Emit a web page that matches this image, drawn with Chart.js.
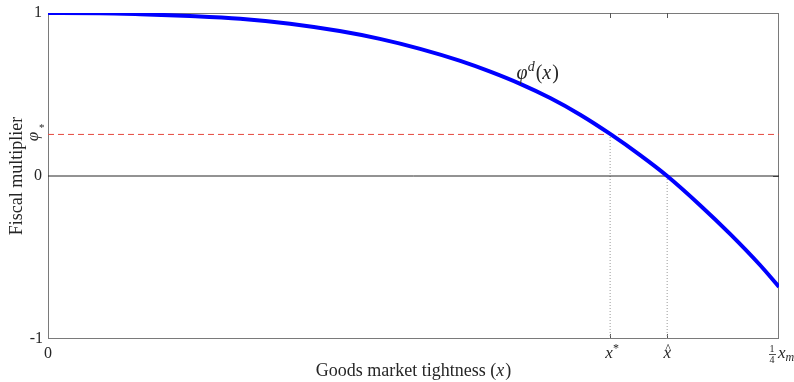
<!DOCTYPE html>
<html>
<head>
<meta charset="utf-8">
<script src="https://cdn.jsdelivr.net/npm/chart.js@4.4.1/dist/chart.umd.min.js"></script>
<style>
  html, body { margin: 0; padding: 0; background: #fff; }
  #wrap { width: 794px; height: 382px; position: relative; }
</style>
</head>
<body>
<div id="wrap"><canvas id="c"></canvas></div>
<script>
// Goods market tightness, measured in units of x_m / 4
const tightness  = [0, 0.071, 0.126, 0.194, 0.263, 0.331, 0.399, 0.454, 0.509, 0.564, 0.605, 0.646, 0.687, 0.728, 0.769, 0.810, 0.847, 0.892, 0.933, 0.974, 1];
// Fiscal multiplier phi^d(x)
const multiplier = [1.0, 0.999, 0.993, 0.982, 0.965, 0.934, 0.889, 0.841, 0.780, 0.706, 0.640, 0.565, 0.478, 0.376, 0.258, 0.128, 0.0, -0.179, -0.355, -0.546, -0.68];
const phiStar = 0.255;  // multiplier threshold
const xStar = 0.769;    // tightness where phi^d = phi*
const xHat = 0.847;     // tightness where phi^d = 0
const xTickValues = [0, xStar, xHat, 1];
const yTickValues = [-1, 0, phiStar, 1];

const SERIF = '"Liberation Serif", "DejaVu Serif", serif';
const AXIS_GREY = '#7a7a7a';

const curve = tightness.map((t, i) => ({ x: t, y: multiplier[i] }));

// draws text pieces one after another; each piece may be italic, scaled or shifted
function drawRuns(ctx, runs, x, y, size, align) {
  let total = 0;
  const widths = runs.map(r => {
    ctx.font = `${r.italic ? 'italic ' : ''}${Math.round(size * (r.scale || 1))}px ${SERIF}`;
    const w = ctx.measureText(r.t).width;
    total += w + (r.gap || 0);
    return w;
  });
  let cx = align === 'center' ? x - total / 2 : (align === 'right' ? x - total : x);
  runs.forEach((r, i) => {
    ctx.font = `${r.italic ? 'italic ' : ''}${Math.round(size * (r.scale || 1))}px ${SERIF}`;
    ctx.textAlign = 'left';
    ctx.fillText(r.t, cx, y + (r.dy || 0));
    cx += widths[i] + (r.gap || 0);
  });
}

const framePlugin = {
  id: 'frame',
  beforeDatasetsDraw(chart) {
    const { ctx, chartArea: a, scales: { x, y } } = chart;
    ctx.save();
    ctx.strokeStyle = AXIS_GREY;
    ctx.lineWidth = 1;
    ctx.strokeRect(Math.round(a.left) + 0.5, Math.round(a.top) + 0.5,
                   Math.round(a.right - a.left) - 1, Math.round(a.bottom - a.top) - 1);
    // inward tick marks
    ctx.strokeStyle = '#555';
    ctx.beginPath();
    xTickValues.slice(1, 3).forEach(v => {
      const px = Math.round(x.getPixelForValue(v)) + 0.5;
      ctx.moveTo(px, a.top); ctx.lineTo(px, a.top + 5);
      ctx.moveTo(px, a.bottom); ctx.lineTo(px, a.bottom - 5);
    });
    const py0 = Math.round(y.getPixelForValue(0)) + 0.5;
    ctx.moveTo(a.right, py0); ctx.lineTo(a.right - 6, py0);
    ctx.stroke();
    ctx.restore();
  },
  afterDraw(chart) {
    const { ctx, chartArea: a, scales: { x, y } } = chart;
    ctx.save();
    ctx.fillStyle = '#262626';
    ctx.textBaseline = 'middle';

    // y tick labels
    const lx = a.left - 6;
    ctx.font = `16px ${SERIF}`;
    ctx.textAlign = 'right';
    ctx.fillText('1', lx, y.getPixelForValue(1));
    ctx.fillText('0', lx, y.getPixelForValue(0));
    ctx.fillText('-1', lx + 1, y.getPixelForValue(-1));

    // phi* label, set sideways
    const ps = y.getPixelForValue(phiStar);
    ctx.save();
    ctx.translate(lx - 8, ps + 2);
    ctx.rotate(-Math.PI / 2);
    ctx.font = `italic 17px ${SERIF}`;
    ctx.textAlign = 'center';
    ctx.fillText('\u03C6', 0, 0);
    ctx.restore();
    ctx.font = `11px ${SERIF}`;
    ctx.textAlign = 'left';
    ctx.fillText('*', lx - 3, ps - 6);

    // x tick labels
    const ty = a.bottom + 15;
    ctx.font = `16px ${SERIF}`;
    ctx.textAlign = 'center';
    ctx.fillText('0', x.getPixelForValue(0), ty);

    const xs = x.getPixelForValue(xStar);
    drawRuns(ctx, [{ t: 'x', italic: true }, { t: '*', scale: 0.7, dy: -5 }], xs + 2, ty, 17, 'center');

    const xh = x.getPixelForValue(xHat);
    drawRuns(ctx, [{ t: 'x', italic: true }], xh, ty, 17, 'center');
    ctx.font = `12px ${SERIF}`;
    ctx.textAlign = 'center';
    ctx.fillText('^', xh + 1, ty - 5);

    // 1/4 x_m
    const xe = x.getPixelForValue(1);
    ctx.font = `10px ${SERIF}`;
    ctx.textAlign = 'center';
    ctx.fillText('1', xe - 7, ty - 5);
    ctx.fillText('4', xe - 7, ty + 6);
    ctx.fillRect(xe - 10, ty, 7, 0.8);
    drawRuns(ctx, [{ t: 'x', italic: true }, { t: 'm', italic: true, scale: 0.72, dy: 4 }], xe - 1, ty, 17, 'left');

    // axis titles
    const tx = (a.left + a.right) / 2;
    drawRuns(ctx, [{ t: 'Goods market tightness (' }, { t: 'x', italic: true, gap: 1 }, { t: ')' }], tx, a.bottom + 32, 18, 'center');

    ctx.save();
    ctx.translate(17, (a.top + a.bottom) / 2);
    ctx.rotate(-Math.PI / 2);
    ctx.font = `18px ${SERIF}`;
    ctx.textAlign = 'center';
    ctx.fillText('Fiscal multiplier', 0, 0);
    ctx.restore();

    // curve label
    const cx = x.getPixelForValue(0.641);
    const cy = y.getPixelForValue(0.625);
    drawRuns(ctx, [
      { t: '\u03C6', italic: true },
      { t: 'd', italic: true, scale: 0.68, dy: -7, gap: 1 },
      { t: '(' },
      { t: 'x', italic: true, gap: 1 },
      { t: ')' }
    ], cx, cy, 20, 'left');

    ctx.restore();
  }
};

new Chart(document.getElementById('c'), {
  type: 'line',
  data: {
    datasets: [
      {
        label: 'phi_d',
        data: curve,
        borderColor: '#0000ff',
        borderWidth: 4,
        pointRadius: 0,
        cubicInterpolationMode: 'monotone',
        fill: false
      },
      {
        label: 'phi_star',
        data: [{ x: 0, y: phiStar }, { x: 1, y: phiStar }],
        borderColor: '#e5483f',
        borderWidth: 1,
        borderDash: [6, 4],
        pointRadius: 0
      },
      {
        label: 'zero',
        data: [{ x: 0, y: 0 }, { x: 1, y: 0 }],
        borderColor: '#262626',
        borderWidth: 1,
        pointRadius: 0
      },
      {
        label: 'x_star_drop',
        data: [{ x: xStar, y: -1 }, { x: xStar, y: phiStar }],
        borderColor: '#9a9a9a',
        borderWidth: 1,
        borderDash: [1, 2],
        pointRadius: 0
      },
      {
        label: 'x_hat_drop',
        data: [{ x: xHat, y: -1 }, { x: xHat, y: 0 }],
        borderColor: '#9a9a9a',
        borderWidth: 1,
        borderDash: [1, 2],
        pointRadius: 0
      }
    ]
  },
  options: {
    responsive: true,
    maintainAspectRatio: false,
    animation: false,
    layout: { padding: { left: 48, right: 15, top: 13, bottom: 43 } },
    plugins: { legend: { display: false }, tooltip: { enabled: false } },
    scales: {
      x: { type: 'linear', min: 0, max: 1, display: false },
      y: { type: 'linear', min: -1, max: 1, display: false }
    }
  },
  plugins: [framePlugin]
});
</script>
</body>
</html>
